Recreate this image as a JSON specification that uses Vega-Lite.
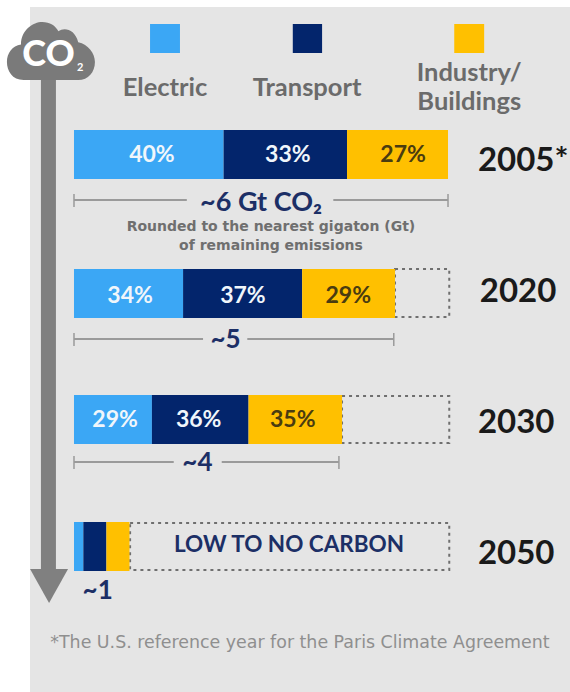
{
  "$schema": "https://vega.github.io/schema/vega-lite/v6.json",
  "width": 570,
  "height": 692,
  "autosize": {"type": "fit", "contains": "padding"},
  "padding": 0,
  "background": "#ffffff",
  "view": {"stroke": null},
  "datasets": {
    "segments": [
      {"year": "2005", "sector": "Electric", "share": 40, "x": 0, "x2": 2.4, "y": 130, "y2": 179},
      {"year": "2005", "sector": "Transport", "share": 33, "x": 2.4, "x2": 4.38, "y": 130, "y2": 179},
      {"year": "2005", "sector": "Industry/Buildings", "share": 27, "x": 4.38, "x2": 6, "y": 130, "y2": 179},
      {"year": "2020", "sector": "Electric", "share": 34, "x": 0, "x2": 1.75, "y": 269, "y2": 318},
      {"year": "2020", "sector": "Transport", "share": 37, "x": 1.75, "x2": 3.66, "y": 269, "y2": 318},
      {"year": "2020", "sector": "Industry/Buildings", "share": 29, "x": 3.66, "x2": 5.15, "y": 269, "y2": 318},
      {"year": "2030", "sector": "Electric", "share": 29, "x": 0, "x2": 1.25, "y": 395, "y2": 444},
      {"year": "2030", "sector": "Transport", "share": 36, "x": 1.25, "x2": 2.8, "y": 395, "y2": 444},
      {"year": "2030", "sector": "Industry/Buildings", "share": 35, "x": 2.8, "x2": 4.3, "y": 395, "y2": 444},
      {"year": "2050", "sector": "Electric", "x": 0, "x2": 0.15, "y": 522, "y2": 571},
      {"year": "2050", "sector": "Transport", "x": 0.15, "x2": 0.52, "y": 522, "y2": 571},
      {"year": "2050", "sector": "Industry/Buildings", "x": 0.52, "x2": 0.89, "y": 522, "y2": 571}
    ],
    "shareLabels": [
      {"sector": "Electric", "label": "40%", "x": 1.25, "y": 155},
      {"sector": "Transport", "label": "33%", "x": 3.43, "y": 155},
      {"sector": "Industry/Buildings", "label": "27%", "x": 5.28, "y": 155},
      {"sector": "Electric", "label": "34%", "x": 0.9, "y": 296},
      {"sector": "Transport", "label": "37%", "x": 2.71, "y": 296},
      {"sector": "Industry/Buildings", "label": "29%", "x": 4.4, "y": 296},
      {"sector": "Electric", "label": "29%", "x": 0.66, "y": 420},
      {"sector": "Transport", "label": "36%", "x": 2.0, "y": 420},
      {"sector": "Industry/Buildings", "label": "35%", "x": 3.51, "y": 420}
    ],
    "keySwatches": [
      {"sector": "Electric", "x": 1.22, "x2": 1.7, "y": 24, "y2": 53},
      {"sector": "Transport", "x": 3.51, "x2": 3.98, "y": 24, "y2": 53},
      {"sector": "Industry/Buildings", "x": 6.1, "x2": 6.58, "y": 24, "y2": 53}
    ],
    "remaining": [
      {"year": "2020", "x": 5.15, "x2": 6.02, "y": 269, "y2": 317},
      {"year": "2030", "x": 4.3, "x2": 6.02, "y": 396, "y2": 443},
      {"year": "2050", "x": 0.9, "x2": 6.02, "y": 523, "y2": 570}
    ],
    "spans": [
      {"year": "2005", "x": 0, "x2": 1.81, "y": 200},
      {"year": "2005", "x": 4.16, "x2": 6, "y": 200},
      {"year": "2020", "x": 0, "x2": 2.07, "y": 339},
      {"year": "2020", "x": 2.78, "x2": 5.13, "y": 339},
      {"year": "2030", "x": 0, "x2": 1.6, "y": 462},
      {"year": "2030", "x": 2.37, "x2": 4.25, "y": 462}
    ],
    "spanEnds": [
      {"x": 0, "y": 194, "y2": 207},
      {"x": 6, "y": 194, "y2": 207},
      {"x": 0, "y": 333, "y2": 346},
      {"x": 5.13, "y": 333, "y2": 346},
      {"x": 0, "y": 456, "y2": 469},
      {"x": 4.25, "y": 456, "y2": 469}
    ],
    "totals": [
      {"label": "~5", "x": 2.43, "y": 340},
      {"label": "~4", "x": 1.98, "y": 463},
      {"label": "~1", "x": 0.38, "y": 591}
    ],
    "years": [
      {"label": "2005*", "x": 6.48, "y": 161},
      {"label": "2020", "x": 6.51, "y": 292},
      {"label": "2030", "x": 6.48, "y": 423},
      {"label": "2050", "x": 6.48, "y": 554}
    ],
    "keyLabels": [
      {"label": "Electric", "x": 1.46, "y": 88},
      {"label": "Transport", "x": 3.74, "y": 88},
      {"label": "Industry/", "x": 6.34, "y": 73},
      {"label": "Buildings", "x": 6.34, "y": 102}
    ],
    "notes": [
      {"label": "Rounded to the nearest gigaton (Gt)", "x": 3.16, "y": 227},
      {"label": "of remaining emissions", "x": 3.16, "y": 246}
    ]
  },
  "encoding": {
    "x": {"field": "x", "type": "quantitative", "axis": null, "scale": {"domain": [-1.187, 7.957], "nice": false, "zero": false}},
    "y": {"field": "y", "type": "quantitative", "axis": null, "scale": {"domain": [692, 0], "nice": false, "zero": false}}
  },
  "layer": [
    {
      "description": "Light panel behind the whole figure",
      "data": {"values": [{"x": -0.706, "x2": 7.957, "y": 7, "y2": 692}]},
      "mark": {"type": "rect", "fill": "#e5e5e5"},
      "encoding": {"x2": {"field": "x2"}, "y2": {"field": "y2"}}
    },
    {
      "description": "Downward arrow shaft from the cloud",
      "data": {"values": [{"x": -0.41, "y": 70, "y2": 572}]},
      "mark": {"type": "rule", "stroke": "#808080", "strokeWidth": 15},
      "encoding": {"y2": {"field": "y2"}}
    },
    {
      "description": "Arrow head",
      "data": {"values": [{"x": -0.4, "y": 586}]},
      "mark": {"type": "point", "filled": true, "fill": "#808080", "opacity": 1, "size": 1444, "shape": "M-1 -0.9 L1 -0.9 L0 0.9 Z"}
    },
    {
      "description": "CO2 cloud",
      "data": {"values": [{"x": -0.37, "y": 51}]},
      "mark": {"type": "point", "filled": true, "fill": "#7a7a7a", "opacity": 1, "size": 7744, "shape": "M-0.62 0.66 C-0.88 0.66 -1 0.45 -1 0.25 C-1 0.05 -0.88 -0.12 -0.68 -0.15 C-0.68 -0.48 -0.4 -0.66 -0.2 -0.66 C-0.02 -0.66 0.1 -0.58 0.17 -0.45 C0.3 -0.55 0.55 -0.5 0.62 -0.2 C0.85 -0.15 1 0.05 1 0.25 C1 0.48 0.85 0.66 0.62 0.66 Z"}
    },
    {
      "data": {"values": [{"label": "CO", "x": -0.41, "y": 55}]},
      "mark": {"type": "text", "font": "Lato", "fontWeight": 900, "fontSize": 36, "fill": "#ffffff", "align": "center", "baseline": "middle"},
      "encoding": {"text": {"field": "label"}}
    },
    {
      "data": {"values": [{"label": "2", "x": 0.1, "y": 68}]},
      "mark": {"type": "text", "font": "Lato", "fontWeight": "bold", "fontSize": 11, "fill": "#ffffff", "align": "center", "baseline": "middle"},
      "encoding": {"text": {"field": "label"}}
    },
    {
      "description": "Dashed outlines for the emissions already removed",
      "data": {"name": "remaining"},
      "mark": {"type": "rect", "fillOpacity": 0, "stroke": "#6f6f6f", "strokeWidth": 2, "strokeDash": [3, 4]},
      "encoding": {"x2": {"field": "x2"}, "y2": {"field": "y2"}}
    },
    {
      "description": "Sector shares for each year",
      "data": {"name": "segments"},
      "mark": {"type": "rect"},
      "encoding": {
        "x2": {"field": "x2"},
        "y2": {"field": "y2"},
        "color": {"field": "sector", "type": "nominal", "legend": null, "scale": {"domain": ["Electric", "Transport", "Industry/Buildings"], "range": ["#3ba7f5", "#03256c", "#ffc000"]}}
      }
    },
    {
      "description": "Colour key squares",
      "data": {"name": "keySwatches"},
      "mark": {"type": "rect"},
      "encoding": {
        "x2": {"field": "x2"},
        "y2": {"field": "y2"},
        "color": {"field": "sector", "type": "nominal", "legend": null}
      }
    },
    {
      "data": {"name": "keyLabels"},
      "mark": {"type": "text", "font": "Lato", "fontWeight": "bold", "fontSize": 25.5, "fill": "#6b6b6b", "align": "center", "baseline": "middle"},
      "encoding": {"text": {"field": "label"}}
    },
    {
      "description": "Share labels, light on blue and navy",
      "data": {"name": "shareLabels"},
      "transform": [{"filter": "datum.sector !== 'Industry/Buildings'"}],
      "mark": {"type": "text", "font": "Lato", "fontWeight": "bold", "fontSize": 23, "fill": "#f0f6fb", "align": "center", "baseline": "middle"},
      "encoding": {"text": {"field": "label"}}
    },
    {
      "description": "Share labels, dark on yellow",
      "data": {"name": "shareLabels"},
      "transform": [{"filter": "datum.sector === 'Industry/Buildings'"}],
      "mark": {"type": "text", "font": "Lato", "fontWeight": "bold", "fontSize": 23, "fill": "#4a3c10", "align": "center", "baseline": "middle"},
      "encoding": {"text": {"field": "label"}}
    },
    {
      "description": "Total emission brackets",
      "data": {"name": "spans"},
      "mark": {"type": "rule", "stroke": "#9a9a9a", "strokeWidth": 2},
      "encoding": {"x2": {"field": "x2"}}
    },
    {
      "data": {"name": "spanEnds"},
      "mark": {"type": "rule", "stroke": "#9a9a9a", "strokeWidth": 1.5},
      "encoding": {"y2": {"field": "y2"}}
    },
    {
      "data": {"values": [{"label": "~6 Gt CO₂", "x": 3.0, "y": 203}]},
      "mark": {"type": "text", "font": "Lato", "fontWeight": "bold", "fontSize": 27, "fill": "#1c2f66", "align": "center", "baseline": "middle"},
      "encoding": {"text": {"field": "label"}}
    },
    {
      "data": {"name": "totals"},
      "mark": {"type": "text", "font": "Lato", "fontWeight": "bold", "fontSize": 26, "fill": "#1c2f66", "align": "center", "baseline": "middle"},
      "encoding": {"text": {"field": "label"}}
    },
    {
      "data": {"name": "notes"},
      "mark": {"type": "text", "font": "DejaVu Sans", "fontWeight": "bold", "fontSize": 14, "fill": "#6f6f6f", "align": "center", "baseline": "middle"},
      "encoding": {"text": {"field": "label"}}
    },
    {
      "data": {"name": "years"},
      "mark": {"type": "text", "font": "Lato", "fontWeight": "bold", "fontSize": 33, "fill": "#1a1a1a", "align": "left", "baseline": "middle"},
      "encoding": {"text": {"field": "label"}}
    },
    {
      "data": {"values": [{"label": "LOW TO NO CARBON", "x": 3.45, "y": 545}]},
      "mark": {"type": "text", "font": "Lato", "fontWeight": "bold", "fontSize": 22.5, "fill": "#1c2f66", "align": "center", "baseline": "middle"},
      "encoding": {"text": {"field": "label"}}
    },
    {
      "data": {"values": [{"label": "*The U.S. reference year for the Paris Climate Agreement", "x": -0.38, "y": 643}]},
      "mark": {"type": "text", "font": "DejaVu Sans", "fontSize": 17.4, "fill": "#8f8f8f", "align": "left", "baseline": "middle"},
      "encoding": {"text": {"field": "label"}}
    }
  ]
}
